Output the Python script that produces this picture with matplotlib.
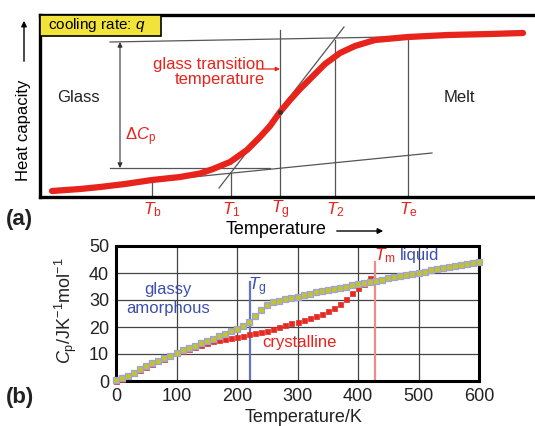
import matplotlib
matplotlib.use("Agg")
import matplotlib.pyplot as plt
from matplotlib.patches import Rectangle, FancyArrowPatch

plt.rcParams['font.family'] = ['Liberation Sans', 'DejaVu Sans']
plt.rcParams['mathtext.fontset'] = 'custom'
plt.rcParams['mathtext.rm'] = 'Liberation Sans'
plt.rcParams['mathtext.it'] = 'Liberation Sans:italic'
plt.rcParams['mathtext.bf'] = 'Liberation Sans:bold'

# ---------------- data: panel (a) schematic (arbitrary units) ----------------
curve_T = [52, 80, 100, 125, 152, 180, 200, 213, 230, 247, 260, 270, 280, 290,
           300, 312, 325, 340, 355, 375, 408, 448, 490, 523]
curve_C = [6, 8, 10, 13, 17, 20, 23.5, 28, 35, 47, 60, 71, 85, 97,
           108, 120, 133, 144, 151, 157, 160, 162, 163, 164]
glass_line_T = [173, 432]
glass_line_C = [18, 44]
melt_line_T = [110, 390]
melt_line_C = [155, 160]
steep_line_T = [219, 344]
steep_line_C = [9, 170]
base_line_T = [110, 270]
base_line_C = [29, 29]
char_names = ['b', '1', 'g', '2', 'e']
char_T = [152, 231, 280, 335, 408]
char_top = [18, 24, 167, 157, 160]
dcp_T = 120
dcp_low, dcp_high = 29, 155
Tg_point_C = 85

# ---------------- data: panel (b) ----------------
T_amorph = list(range(0, 601, 10))
Cp_amorph = [0.3, 1.0, 1.9, 3.1, 4.3, 5.6, 6.6, 7.5, 8.4, 9.3,
             10.4, 11.4, 12.2, 13.1, 14.1, 15.0, 15.7, 16.5, 17.4, 18.4,
             19.3, 20.5, 22.0, 24.1, 26.3, 28.1, 29.2, 29.8, 30.3, 30.8,
             31.2, 31.8, 32.4, 32.9, 33.4, 33.8, 34.2, 34.6, 35.0, 35.4,
             35.9, 36.3, 36.7, 37.1, 37.5, 38.0, 38.4, 38.8, 39.2, 39.7,
             40.1, 40.5, 41.0, 41.4, 41.8, 42.2, 42.6, 43.0, 43.4, 43.8, 44.2]
T_cryst = list(range(0, 421, 10))
Cp_cryst = [0.0, 0.8, 1.8, 2.9, 4.1, 5.3, 6.4, 7.4, 8.3, 9.2,
            10.2, 11.1, 11.9, 12.7, 13.5, 14.2, 14.7, 15.1, 15.5, 16.0,
            16.4, 16.8, 17.3, 17.7, 18.2, 18.7, 19.3, 19.9, 20.6, 21.3,
            21.9, 22.5, 23.2, 24.0, 25.0, 25.9, 26.9, 28.5, 30.4, 32.5,
            34.4, 36.0, 38.3]
Tg_b = 222
Tm_b = 428
xticks_b = [0, 100, 200, 300, 400, 500, 600]
yticks_b = [0, 10, 20, 30, 40, 50]

RED = '#e8231c'
BLUE = '#3d4fae'
GREY = '#555555'

W, H = 535, 426
fig = plt.figure(figsize=(W / 100, H / 100), dpi=100)


def fx(px):
    return px / W


def fy(py):
    return 1 - py / H


# ================= panel (a) =================
axA = fig.add_axes([fx(40), fy(197), 500 / W, 182 / H])
axA.set_xlim(40, 540)
axA.set_ylim(0, 182)
axA.set_xticks([])
axA.set_yticks([])
for s in axA.spines.values():
    s.set_linewidth(2.4)
    s.set_color('black')

axA.plot(glass_line_T, glass_line_C, color=GREY, lw=0.9)
axA.plot(melt_line_T, melt_line_C, color=GREY, lw=0.9)
axA.plot(steep_line_T, steep_line_C, color=GREY, lw=0.9)
axA.plot(base_line_T, base_line_C, color=GREY, lw=0.9)
for t, top in zip(char_T, char_top):
    axA.plot([t, t], [0, top], color=GREY, lw=0.9)
axA.annotate('', xy=(dcp_T, dcp_high), xytext=(dcp_T, dcp_low),
             arrowprops=dict(arrowstyle='<|-|>', color='#333333', lw=0.8,
                             mutation_scale=7, shrinkA=0, shrinkB=0))
axA.plot(curve_T, curve_C, color=RED, lw=4.5, solid_capstyle='round',
         solid_joinstyle='round', zorder=5)
axA.plot([char_T[2]], [Tg_point_C], 'o', color='#333333', ms=2.5, zorder=6)

# yellow box
axA.add_patch(Rectangle((40, 161), 121, 21, facecolor='#f2e33a',
                        edgecolor='black', lw=1.2, zorder=7, clip_on=False))
axA.text(48, 171.5, r'cooling rate: $\it{q}$', fontsize=11, va='center',
         ha='left', zorder=8)

axA.text(78, 100, 'Glass', fontsize=12, ha='center', va='center', color='#222222')
axA.text(459, 100, 'Melt', fontsize=12, ha='center', va='center', color='#222222')
axA.text(265, 125, 'glass transition\ntemperature', fontsize=12, ha='right',
         va='center', color=RED, multialignment='right', linespacing=1.0)
axA.annotate('', xy=(280, 128), xytext=(257, 128),
             arrowprops=dict(arrowstyle='-|>', color=RED, lw=0.9,
                             mutation_scale=6, shrinkA=0, shrinkB=0))
axA.text(125, 60, r'$\Delta C_\mathrm{p}$', fontsize=12, ha='left',
         va='center', color=RED)

for name, t in zip(char_names, char_T):
    axA.text(t, -13, r'$T_\mathrm{%s}$' % name, fontsize=12.5, ha='center',
             va='center', color=RED, clip_on=False)

fig.text(fx(24), fy(130), 'Heat capacity', rotation=90, fontsize=12,
         ha='center', va='center')
fig.add_artist(FancyArrowPatch(
    (fx(24), fy(64)), (fx(24), fy(18)), transform=fig.transFigure,
    arrowstyle='-|>', mutation_scale=8, color='black', lw=1.0))
fig.text(fx(276), fy(230), 'Temperature', fontsize=13, ha='center', va='center')
fig.add_artist(FancyArrowPatch(
    (fx(334), fy(231)), (fx(386), fy(231)), transform=fig.transFigure,
    arrowstyle='-|>', mutation_scale=8, color='black', lw=1.0))
fig.text(fx(6), fy(219), '(a)', fontsize=16, fontweight='bold',
         ha='left', va='center', color='#222222')

# ================= panel (b) =================
axB = fig.add_axes([fx(116), fy(381), 363 / W, 135 / H])
axB.set_xlim(0, 600)
axB.set_ylim(0, 50)
axB.set_xticks(xticks_b)
axB.set_yticks(yticks_b)
axB.grid(True, color='#444444', lw=0.9)
axB.set_axisbelow(True)
for s in axB.spines.values():
    s.set_linewidth(2.2)
    s.set_color('black')
axB.tick_params(length=0, labelsize=13, pad=5, colors='#222222')

axB.plot([Tg_b, Tg_b], [0, 36.7], color='#6474c4', lw=1.6, zorder=2)
axB.plot([Tm_b, Tm_b], [0, 44], color='#f08a8a', lw=1.6, zorder=2)

axB.plot(T_cryst, Cp_cryst, 's', color='#e42a22', ms=3.6, mec='#e42a22',
         mew=0.5, ls='none', zorder=3, clip_on=False)
axB.plot(T_amorph, Cp_amorph, 's', mfc='#c4c42a', mec='#9aa2e0', ms=3.8,
         mew=0.9, ls='none', zorder=4, clip_on=False)

axB.text(86, 34, 'glassy', fontsize=12, color=BLUE, ha='center', va='center')
axB.text(86, 27, 'amorphous', fontsize=12, color=BLUE, ha='center', va='center')
axB.text(Tg_b - 3, 35, r'$T_\mathrm{g}$', fontsize=12.5, color=BLUE,
         ha='left', va='center')
axB.text(304, 14.4, 'crystalline', fontsize=12, color=RED, ha='center',
         va='center')
axB.text(Tm_b - 2, 46.5, r'$T_\mathrm{m}$', fontsize=12.5, color=RED,
         ha='left', va='center')
axB.text(502, 46.3, 'liquid', fontsize=12, color=BLUE, ha='center',
         va='center')

fig.text(fx(304), fy(417), 'Temperature/K', fontsize=13, ha='center',
         va='center', color='#222222')
fig.text(fx(66), fy(311), r'$C_\mathrm{p}$/JK$^{-1}$mol$^{-1}$', rotation=90,
         fontsize=13, ha='center', va='center', color='#222222')
fig.text(fx(6), fy(398), '(b)', fontsize=16, fontweight='bold',
         ha='left', va='center', color='#222222')

fig.savefig('out.png', dpi=100)
